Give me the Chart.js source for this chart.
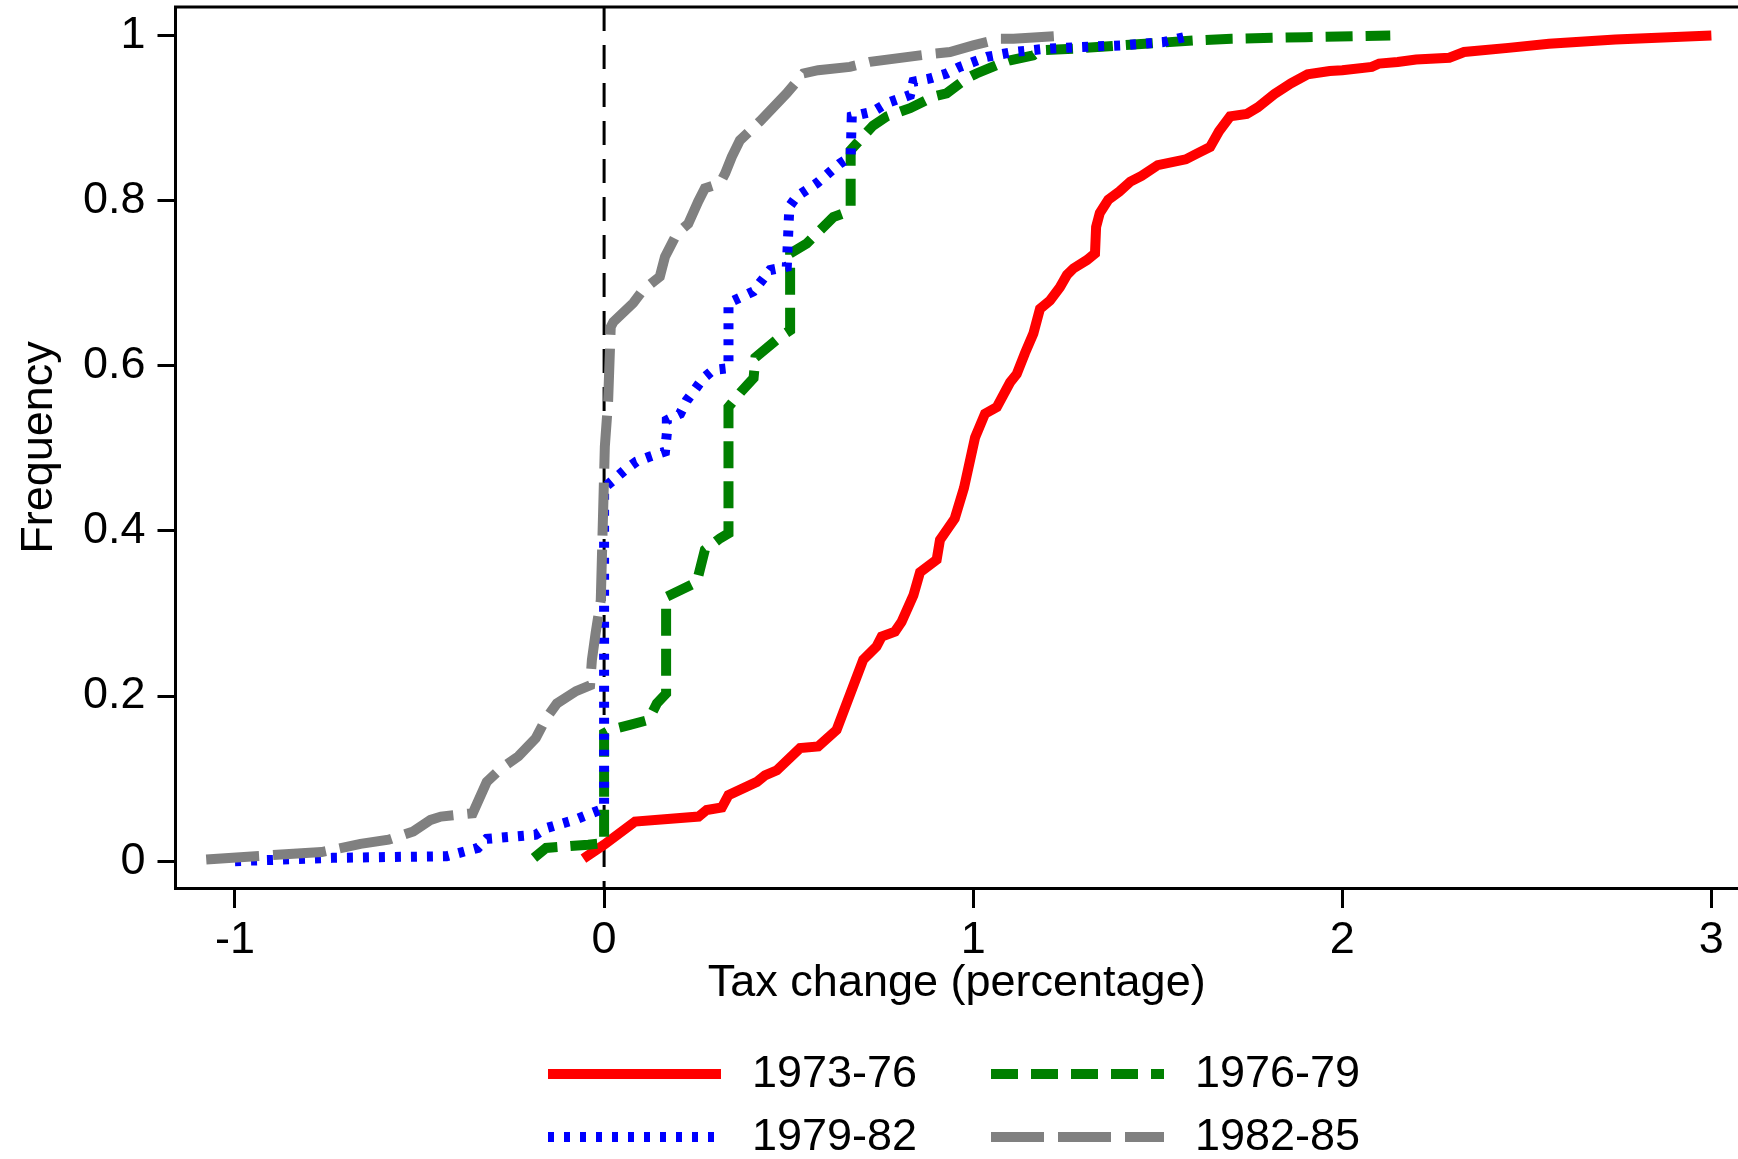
<!DOCTYPE html>
<html>
<head>
<meta charset="utf-8">
<title>Tax change CDF</title>
<script src="https://cdn.jsdelivr.net/npm/chart.js@4.4.1/dist/chart.umd.min.js"></script>
<style>
  html,body{margin:0;padding:0;background:#fff;}
  #wrap{width:1738px;height:1159px;}
</style>
</head>
<body>
<div id="wrap"><canvas id="cdf" width="1738" height="1159"></canvas></div>
<script>
/* ── data ── */
const xTicks = [-1, 0, 1, 2, 3];
const yTicks = [0, 0.2, 0.4, 0.6, 0.8, 1];
const refLineX = 0;

const x7376 = [-0.056,0,0.084,0.256,0.278,0.319,0.337,0.414,0.436,0.468,0.531,0.58,0.63,0.702,0.738,0.752,0.788,0.806,0.838,0.856,0.901,0.91,0.93,0.95,0.975,1.005,1.032,1.064,1.10,1.118,1.14,1.163,1.181,1.208,1.235,1.254,1.272,1.308,1.33,1.333,1.343,1.366,1.396,1.426,1.456,1.5,1.576,1.606,1.642,1.666,1.696,1.741,1.771,1.816,1.861,1.906,1.966,2.0,2.08,2.1,2.15,2.2,2.29,2.33,2.45,2.56,2.74,3.0];
const y7376 = [0.003,0.02,0.048,0.054,0.062,0.065,0.08,0.096,0.104,0.11,0.137,0.139,0.159,0.244,0.26,0.272,0.278,0.29,0.322,0.35,0.365,0.389,0.402,0.415,0.452,0.513,0.542,0.55,0.58,0.59,0.615,0.639,0.669,0.679,0.695,0.71,0.718,0.728,0.736,0.768,0.785,0.801,0.811,0.823,0.83,0.843,0.85,0.857,0.865,0.884,0.902,0.905,0.913,0.929,0.942,0.953,0.957,0.958,0.962,0.966,0.968,0.971,0.973,0.98,0.985,0.99,0.995,1.0];

const x7679 = [-0.19,-0.157,-0.043,0,0,0.016,0.07,0.12,0.143,0.168,0.168,0.206,0.251,0.273,0.314,0.337,0.337,0.37,0.405,0.41,0.477,0.504,0.504,0.549,0.621,0.657,0.668,0.668,0.684,0.729,0.766,0.829,0.892,0.928,0.982,1.009,1.073,1.1,1.163,1.181,1.271,1.4,1.5,1.6,1.7,1.9,2.13];
const y7679 = [0.004,0.016,0.02,0.022,0.155,0.159,0.165,0.171,0.191,0.203,0.32,0.328,0.338,0.377,0.391,0.397,0.55,0.568,0.585,0.61,0.635,0.643,0.736,0.748,0.78,0.786,0.792,0.861,0.869,0.891,0.902,0.912,0.926,0.93,0.948,0.954,0.966,0.97,0.976,0.982,0.984,0.988,0.991,0.994,0.996,0.998,1.0];

const x7982 = [-1.0,-0.736,-0.427,-0.342,-0.318,-0.185,-0.157,-0.08,0,0,0.057,0.088,0.124,0.165,0.17,0.17,0.206,0.224,0.269,0.296,0.337,0.337,0.404,0.45,0.495,0.502,0.522,0.576,0.639,0.668,0.671,0.729,0.766,0.829,0.838,0.883,0.928,0.964,1.037,1.109,1.199,1.289,1.4,1.515,1.59];
const y7982 = [0.0,0.004,0.006,0.016,0.027,0.032,0.04,0.05,0.064,0.452,0.474,0.484,0.49,0.496,0.518,0.534,0.542,0.558,0.585,0.595,0.597,0.676,0.69,0.716,0.72,0.793,0.805,0.821,0.845,0.853,0.902,0.908,0.918,0.928,0.944,0.948,0.954,0.962,0.974,0.98,0.984,0.986,0.988,0.992,1.0];

const x8285 = [-1.078,-0.945,-0.765,-0.66,-0.584,-0.517,-0.47,-0.442,-0.356,-0.318,-0.28,-0.232,-0.185,-0.157,-0.128,-0.076,-0.038,-0.033,-0.023,-0.009,0.002,0.011,0.018,0.025,0.079,0.106,0.151,0.165,0.197,0.228,0.255,0.273,0.314,0.328,0.346,0.368,0.422,0.495,0.54,0.58,0.666,0.72,0.892,0.937,1.0,1.073,1.109,1.249];
const y8285 = [0.002,0.006,0.011,0.021,0.026,0.036,0.05,0.054,0.058,0.096,0.112,0.127,0.149,0.173,0.191,0.206,0.213,0.244,0.276,0.316,0.502,0.558,0.647,0.653,0.676,0.692,0.708,0.732,0.76,0.772,0.799,0.815,0.821,0.833,0.853,0.873,0.896,0.93,0.954,0.958,0.962,0.968,0.978,0.98,0.988,0.996,0.996,1.0];

const FONT = "'Liberation Sans', Arial, sans-serif";
const pts = (xs,ys)=>xs.map((x,i)=>({x, y:ys[i]}));

/* ── reference line + top frame + custom 2-column legend ── */
const extras = {
  id:'extras',
  beforeDatasetsDraw(chart){
    const {ctx, chartArea:a, scales:{x}} = chart;
    const px = x.getPixelForValue(refLineX);
    ctx.save();
    ctx.strokeStyle='#000'; ctx.lineWidth=3; ctx.setLineDash([24,14]);
    ctx.beginPath(); ctx.moveTo(px,a.top); ctx.lineTo(px,a.bottom); ctx.stroke();
    ctx.restore();
  },
  afterDraw(chart){
    const {ctx, chartArea:a} = chart;
    ctx.save();
    ctx.strokeStyle='#000'; ctx.lineWidth=3;
    ctx.beginPath(); ctx.moveTo(a.left-1.5,a.top); ctx.lineTo(a.right,a.top); ctx.stroke();

    // legend: row-wise 2 columns
    const cols=[548, 991], rows=[1074, 1137], lineLen=173, textGap=31;
    ctx.font = '45px '+FONT; ctx.fillStyle='#000'; ctx.textBaseline='middle'; ctx.textAlign='left';
    chart.data.datasets.forEach((ds,i)=>{
      const cx=cols[i%2], cy=rows[Math.floor(i/2)];
      ctx.strokeStyle=ds.borderColor; ctx.lineWidth=ds.borderWidth;
      ctx.setLineDash(ds.borderDash||[]); ctx.lineCap='butt';
      ctx.beginPath(); ctx.moveTo(cx,cy); ctx.lineTo(cx+lineLen,cy); ctx.stroke();
      ctx.setLineDash([]);
      ctx.fillText(ds.label, cx+lineLen+textGap, cy+1);
    });
    ctx.restore();
  }
};

// keep the plot box fixed: no extra label padding from the axes
const noPad = s=>{ s.paddingTop=0; s.paddingBottom=0; s.paddingLeft=0; s.paddingRight=0; };

new Chart(document.getElementById('cdf'),{
  type:'line',
  data:{datasets:[
    {label:'1973-76', data:pts(x7376,y7376), borderColor:'#ff0000', borderWidth:10, borderDash:[], order:4},
    {label:'1976-79', data:pts(x7679,y7679), borderColor:'#008000', borderWidth:10, borderDash:[27,13], order:3},
    {label:'1979-82', data:pts(x7982,y7982), borderColor:'#0000ff', borderWidth:10, borderDash:[6,10], order:2},
    {label:'1982-85', data:pts(x8285,y8285), borderColor:'#808080', borderWidth:10, borderDash:[53,14], order:1}
  ]},
  options:{
    responsive:false, animation:false, devicePixelRatio:1,
    layout:{padding:{left:0, right:0, top:7, bottom:148}},
    elements:{point:{radius:0}, line:{tension:0, fill:false, borderCapStyle:'butt'}},
    plugins:{legend:{display:false}, tooltip:{enabled:false}},
    scales:{
      x:{
        type:'linear', min:-1.1612, max:3.0721,
        afterBuildTicks:s=>{ s.ticks = xTicks.map(v=>({value:v})); },
        afterFit:s=>{ s.height = 123; noPad(s); },
        grid:{drawOnChartArea:false, tickLength:20, tickWidth:3, tickColor:'#000'},
        border:{display:true, width:3, color:'#000'},
        ticks:{color:'#000', font:{family:FONT, size:45}, padding:6, maxRotation:0, callback:v=>String(v)},
        title:{display:true, text:'Tax change (percentage)', color:'#000', font:{family:FONT, size:45, lineHeight:1.2}, padding:{top:0, bottom:0}}
      },
      y:{
        type:'linear', min:-0.0325, max:1.0345,
        afterBuildTicks:s=>{ s.ticks = yTicks.map(v=>({value:v})); },
        afterFit:s=>{ s.width = 175.5; noPad(s); },
        grid:{drawOnChartArea:false, tickLength:18, tickWidth:3, tickColor:'#000'},
        border:{display:true, width:3, color:'#000'},
        ticks:{color:'#000', font:{family:FONT, size:45}, padding:12, callback:v=>String(v)},
        title:{display:true, text:'Frequency', color:'#000', font:{family:FONT, size:45, lineHeight:1.2}, padding:{top:13, bottom:0}}
      }
    }
  },
  plugins:[extras]
});
</script>
</body>
</html>
